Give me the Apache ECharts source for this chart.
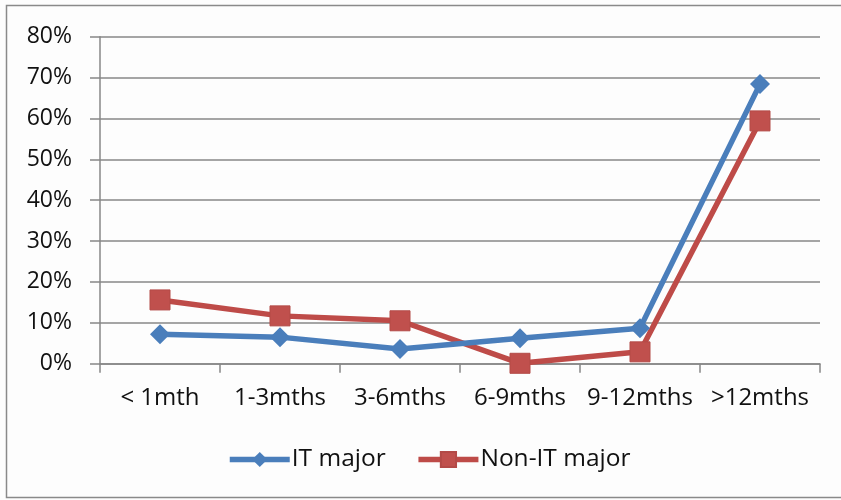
<!DOCTYPE html>
<html>
<head>
<meta charset="utf-8">
<script src="https://cdn.jsdelivr.net/npm/echarts@6/dist/echarts.min.js"></script>
<style>
  html, body { margin: 0; padding: 0; background: #fdfdfd; }
  #chart { width: 841px; height: 500px; }
</style>
</head>
<body>
<div id="chart"></div>
<script>
// Time taken to find a job, by study major (share of graduates)
const categories = ['< 1mth', '1-3mths', '3-6mths', '6-9mths', '9-12mths', '>12mths'];
const itMajor = [7.2, 6.5, 3.6, 6.2, 8.7, 68.4];
const nonItMajor = [15.6, 11.7, 10.5, 0.1, 2.9, 59.4];
const seriesNames = ['IT major', 'Non-IT major'];

const FONT = '"Open Sans", "Liberation Sans", sans-serif';
const AXIS_GRAY = '#878787';

const chart = echarts.init(document.getElementById('chart'), null, { renderer: 'canvas' });

chart.setOption({
  animation: false,
  backgroundColor: '#fdfdfd',
  textStyle: { fontFamily: FONT },
  graphic: [{
    type: 'rect',
    shape: { x: 6.5, y: 5.5, width: 840, height: 492 },
    style: { fill: 'none', stroke: '#8a8a8a', lineWidth: 1.5 },
    silent: true
  }],
  grid: { left: 100, right: 21, top: 36.7, bottom: 136.3, containLabel: false },
  legend: {
    bottom: 23,
    left: 222,
    itemWidth: 60,
    itemHeight: 19,
    itemGap: 30,
    lineStyle: { width: 5.5 },
    textStyle: { fontSize: 24.5, color: '#111', fontFamily: FONT, padding: [0, 0, 0, -3] },
    data: seriesNames
  },
  xAxis: {
    type: 'category',
    data: categories,
    boundaryGap: true,
    axisLine: { lineStyle: { color: AXIS_GRAY, width: 1.5 } },
    axisTick: { show: true, length: 9, lineStyle: { color: AXIS_GRAY, width: 1.5 } },
    axisLabel: { interval: 0, fontSize: 24, color: '#111', margin: 22, fontFamily: FONT },
    splitLine: { show: false }
  },
  yAxis: {
    type: 'value',
    min: 0,
    max: 80,
    interval: 10,
    axisLine: { show: true, lineStyle: { color: AXIS_GRAY, width: 1.5 } },
    axisTick: { show: true, length: 10, lineStyle: { color: AXIS_GRAY, width: 1.5 } },
    axisLabel: { fontSize: 23, color: '#111', margin: 28, fontFamily: FONT, formatter: '{value}%' },
    splitLine: { show: true, lineStyle: { color: AXIS_GRAY, width: 1.5 } }
  },
  series: [
    {
      name: seriesNames[0],
      type: 'line',
      data: itMajor,
      symbol: 'diamond',
      symbolSize: 20,
      lineStyle: { color: '#4a7ebb', width: 5.5 },
      itemStyle: { color: '#4a7ebb' },
      z: 3
    },
    {
      name: seriesNames[1],
      type: 'line',
      data: nonItMajor,
      symbol: 'rect',
      symbolSize: 20,
      lineStyle: { color: '#be4b48', width: 5.5 },
      itemStyle: { color: '#c0504d', borderColor: '#b34a47', borderWidth: 1 },
      z: 2
    }
  ]
});
</script>
</body>
</html>
